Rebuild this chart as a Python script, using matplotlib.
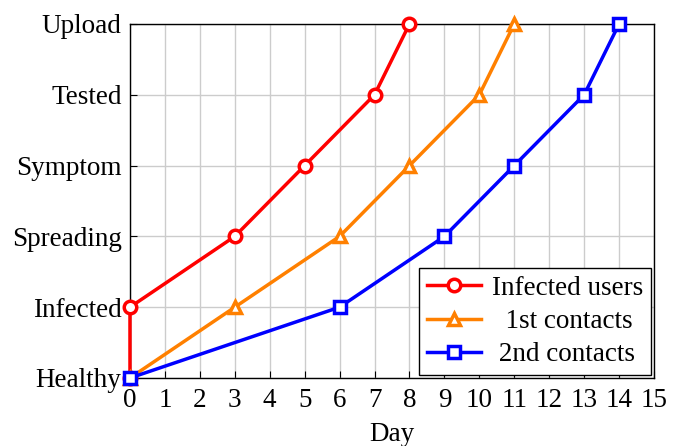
import matplotlib
matplotlib.use("Agg")
import matplotlib.pyplot as plt

plt.rcParams['font.family'] = ['Liberation Serif', 'DejaVu Serif']

stages = ['Healthy', 'Infected', 'Spreading', 'Symptom', 'Tested', 'Upload']

infected_x = [0, 0, 3, 5, 7, 8]
first_x = [0, 3, 6, 8, 10, 11]
second_x = [0, 6, 9, 11, 13, 14]
levels = [0, 1, 2, 3, 4, 5]

fig = plt.figure(figsize=(6.78, 4.46), dpi=100)
ax = fig.add_axes([0.1917, 0.1525, 0.7729, 0.7937])

fs = 19.5
ms = 9
ax.plot(infected_x, levels, color='#ff0000', lw=2.5, marker='o', ms=ms, mfc='white',
        mew=2.5, label='Infected users', zorder=3, clip_on=False)
ax.plot(first_x, levels, color='#ff8000', lw=2.5, marker='^', ms=ms, mfc='white',
        mew=2.5, label='  1st contacts', zorder=3, clip_on=False)
ax.plot(second_x, levels, color='#0000ff', lw=2.5, marker='s', ms=ms - 1, mfc='white',
        mew=2.5, label=' 2nd contacts', zorder=4, clip_on=False)

ax.set_xlim(0, 15)
ax.set_ylim(0, 5)
ax.set_xticks(range(16))
ax.set_yticks(levels)
ax.set_yticklabels(stages)
ax.tick_params(axis='x', direction='in', labelsize=fs, length=5, pad=7)
ax.tick_params(axis='y', direction='in', labelsize=fs, length=5, pad=6)
ax.grid(True, color='#cccccc', lw=1)
ax.set_axisbelow(True)
for s in ax.spines.values():
    s.set_linewidth(1)
ax.set_xlabel('Day', fontsize=fs, labelpad=7)

leg = ax.legend(loc='lower right', fontsize=fs, fancybox=False, edgecolor='black',
                framealpha=1, borderpad=0.3, labelspacing=0.3, handlelength=2.0,
                handletextpad=0.4, borderaxespad=0.1)
leg.get_frame().set_linewidth(1)

fig.savefig('out.png', dpi=100)
